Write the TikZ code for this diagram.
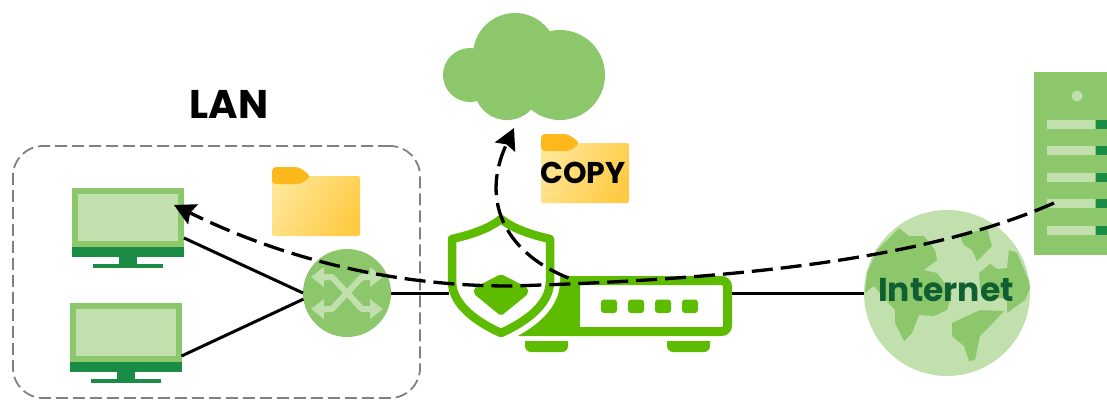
\documentclass[tikz,border=0pt]{standalone}
\usepackage{fontspec}
\setmainfont{Poppins}
\usepackage{tikz}
\usetikzlibrary{positioning,arrows.meta,shadings}
\definecolor{midgreen}{HTML}{8CC86B}
\definecolor{lightgreen}{HTML}{C2E0AE}
\definecolor{darkgreen}{HTML}{1B8C45}
\definecolor{fwgreen}{HTML}{5EBC00}
\definecolor{textgreen}{HTML}{0F5F32}
\definecolor{foldertab}{HTML}{FDB81C}
\definecolor{folderlight}{HTML}{FFE594}
\definecolor{folderdark}{HTML}{FFCB45}
\newcommand{\monitorstand}[1]{
    \fill[darkgreen] (#1.south west) rectangle ([yshift=-10pt]#1.south east);
    \fill[darkgreen] ([xshift=-9pt]#1.south) rectangle ([xshift=9pt,yshift=-18pt]#1.south);
    \fill[darkgreen] ([xshift=-35pt,yshift=-17pt]#1.south) rectangle ([xshift=35pt,yshift=-21pt]#1.south);
}
\newcommand{\foldertab}[1]{
    \fill[foldertab, rounded corners=4pt] ([yshift=-8pt]#1.north west) -- ([yshift=9pt]#1.north west)
        -- ([xshift=27pt,yshift=9pt]#1.north west) -- ([xshift=39pt,yshift=0pt]#1.north west)
        -- ([xshift=29pt,yshift=-8pt]#1.north west) -- cycle;
}

\begin{document}
\begin{tikzpicture}[
    x=1pt, y=-1pt,
    monitornode/.style={rectangle, draw=midgreen, fill=lightgreen, line width=6pt, outer sep=3pt, minimum width=106pt, minimum height=53pt, inner sep=0pt},
    foldernode/.style={rectangle, rounded corners=2pt, left color=folderlight, right color=folderdark, shading angle=60, outer sep=0pt, inner sep=0pt, minimum width=88pt, minimum height=60pt},
    wire/.style={draw=black, line width=3pt},
    flow/.style={-{Stealth[length=21pt,width=22pt,inset=3pt]}, draw=black, line width=3.3pt, dash pattern=on 21pt off 8pt},
    swarrow/.style={{Stealth[length=13pt,width=19pt,inset=0pt]}-{Stealth[length=13pt,width=19pt,inset=0pt]}, draw=lightgreen, line width=6pt, line join=round}
    ]
        \useasboundingbox (0,0) rectangle (1107,400);

        %Nodes
        \node[draw=black!50, line width=1.8pt, dash pattern=on 12pt off 5pt, rounded corners=30pt, minimum width=407pt, minimum height=252pt, inner sep=0pt, outer sep=0pt]
            (mLan)  at (216.5,272) {};
        \node[font=\fontsize{40}{40}\selectfont\bfseries]
            (mLanTxt)  at (229,104) {LAN};
        \node[monitornode]
            (mPcA)  at (128,217.5) {};
        \node[monitornode]
            (mPcB)  [below=56pt of mPcA, xshift=-2.5pt] {};
        \node[circle, fill=midgreen, minimum size=88pt, inner sep=0pt, outer sep=0pt]
            (mSw)   at (347,293) {};
        \node[foldernode]
            (mFolderA) at (316,206) {};
        \node[foldernode, font=\fontsize{30}{30}\selectfont\bfseries]
            (mFolderB) at (585,173) {\hspace*{-4pt}\raisebox{-4pt}{COPY}};
        \node[inner sep=0pt, outer sep=0pt, minimum width=104pt, minimum height=124pt]
            (mFw)   at (501,276) {};
        \node[rectangle, draw=fwgreen, fill=white, line width=9pt, rounded corners=6pt, minimum width=154pt, minimum height=51pt, inner sep=0pt, outer sep=4.5pt]
            (mRt)   at (650.5,306) {};
        \node[circle, fill=lightgreen, minimum size=166pt, inner sep=0pt, outer sep=0pt]
            (mInet) at (947,293) {};
        \node[rectangle, fill=midgreen, minimum width=73pt, minimum height=183pt, inner sep=0pt, outer sep=0pt]
            (mSrv)  at (1070.5,163.5) {};
        \node[circle, fill=midgreen, minimum size=90pt, inner sep=0pt]
            (mCloud) at (560,75) {};

        %Cloud
        \fill[midgreen] (470,75) circle (27) (515,55) circle (42) (507,87) circle (33) (500,75) circle (30);

        %Monitors and folders
        \monitorstand{mPcA}
        \monitorstand{mPcB}
        \foldertab{mFolderA}
        \foldertab{mFolderB}

        %Switch
        \begin{scope}[shift={(mSw.center)}]
            \draw[swarrow] (-36,-16) -- (-15,-16) -- (15,16) -- (36,16);
            \draw[swarrow] (-36,16) -- (-15,16) -- (15,-16) -- (36,-16);
        \end{scope}

        %Globe
        \begin{scope}
            \clip (mInet.center) circle (83);
            \begin{scope}[shift={(mInet.center)}]
                \fill[midgreen] (-48,-65) -- (-38,-57) -- (-23,-57) -- (-12,-43) -- (-10,-33) -- (-23,-23) -- (-10,-20) -- (5,0) -- (0,17) -- (-13,23) -- (-28,22) -- (-35,40) -- (-43,48) -- (-52,30) -- (-52,17) -- (-63,5) -- (-73,-7) -- (-82,0) -- (-80,-20) -- (-70,-43) -- cycle;
                \fill[midgreen] (13,-57) -- (40,-65) -- (45,-47) -- (30,-32) -- (25,-43) -- (17,-48) -- cycle;
                \fill[midgreen] (32,-20) -- (43,-29) -- (50,-24) -- (60,-25) -- (62,-43) -- (70,-40) -- (84,-7) -- (78,7) -- (60,20) -- (60,5) -- (40,5) -- (33,-5) -- cycle;
                \fill[midgreen] (5,30) -- (33,17) -- (57,18) -- (43,33) -- (33,43) -- (28,67) -- (22,68) -- (17,53) -- (5,43) -- cycle;
            \end{scope}
        \end{scope}
        \node[text=textgreen, font=\fontsize{33}{33}\selectfont\bfseries]
            (mInetTxt) at (946,290) {Internet};

        %Server
        \fill[lightgreen] (1077,96) circle (5.5);
        \foreach \y in {124,150,177,203,230}{
            \fill[lightgreen] (1047,\y-4.5) rectangle (1095,\y+4.5);
            \fill[darkgreen] (1096,\y-4.5) rectangle (1107,\y+4.5);
        }

        %Lines
        \draw[wire] ([yshift=9pt]mPcA.south east) -- (mSw.west);
        \draw[wire] ([yshift=6pt]mPcB.south east) -- (mSw.188);
        \draw[wire] (mRt.east |- mInet.west) -- (mInet.west);

        %Router
        \fill[fwgreen] (518,336) -- (580,336) -- (580,276) -- (560,276) -- cycle;
        \begin{scope}[shift={(mRt.center)}]
            \foreach \dx in {-41.5,-14.5,12.5,39.5}{
                \fill[fwgreen, rounded corners=3pt] (\dx-8,-6.5) rectangle (\dx+8,7);
            }
            \foreach \fx in {-125.5,16.5}{
                \fill[fwgreen] (\fx,35) -- (\fx+43,35) [rounded corners=6pt] -- (\fx+43,46) -- (\fx,46) [sharp corners] -- cycle;
            }
        \end{scope}

        %Shield
        \begin{scope}[shift={(mFw.center)}]
            \draw[draw=white, line width=20pt, line join=round]
                (0,-57) .. controls (14,-46) and (32,-41) .. (49,-37) -- (49,5) .. controls (49,30) and (22,47) .. (0,57) .. controls (-22,47) and (-49,30) .. (-49,5) -- (-49,-37) .. controls (-32,-41) and (-14,-46) .. (0,-57) -- cycle;
        \end{scope}
        \draw[wire] (mSw.east) -- (mSw.east -| mFw.west);
        \begin{scope}[shift={(mFw.center)}]
            \draw[draw=fwgreen, fill=white, line width=8.5pt, line join=round]
                (0,-57) .. controls (14,-46) and (32,-41) .. (49,-37) -- (49,5) .. controls (49,30) and (22,47) .. (0,57) .. controls (-22,47) and (-49,30) .. (-49,5) -- (-49,-37) .. controls (-32,-41) and (-14,-46) .. (0,-57) -- cycle;
            \fill[fwgreen, rounded corners=2pt] (0,-2) -- (27,12) -- (27,18) -- (0,40) -- (-27,18) -- (-27,12) -- cycle;
        \end{scope}

        %Flows
        \draw[flow] ([xshift=-16.5pt,yshift=-39.5pt]mSrv.center) .. controls (920,262) and (720,280) .. (510,286) .. controls (400,286) and (290,262) .. ([xshift=-10pt,yshift=12.5pt]mPcA.east);
        \draw[flow] ([xshift=-82pt,yshift=-2pt]mRt.north) .. controls (510,255) and (478,205) .. ([xshift=-46pt,yshift=-53pt]mCloud.center);
\end{tikzpicture}
\end{document}
